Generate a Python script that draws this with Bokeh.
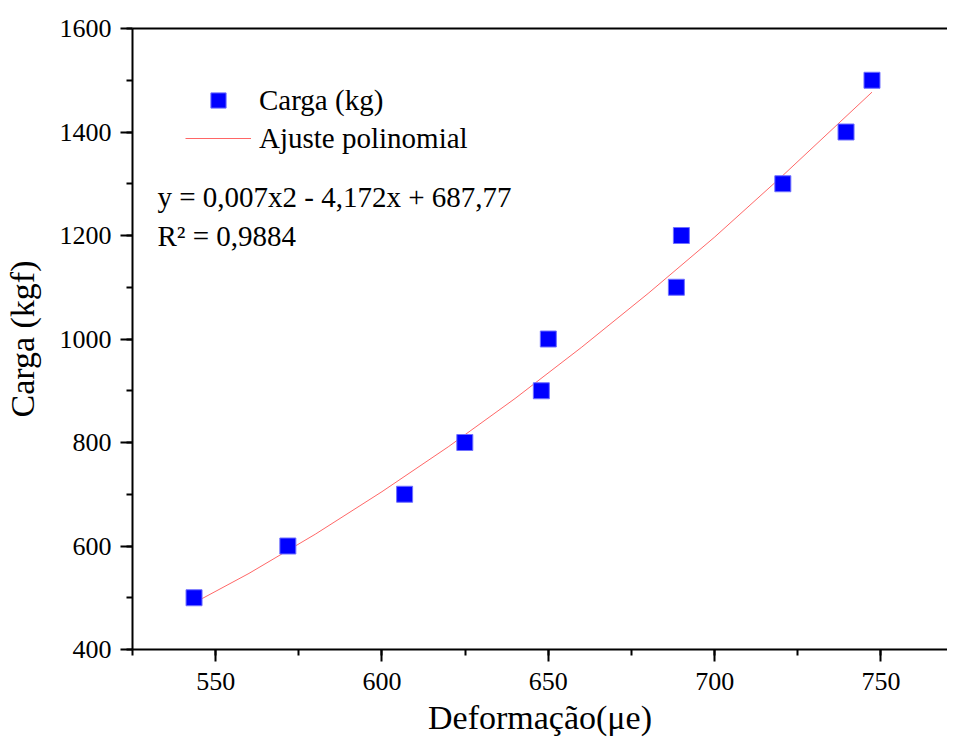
from bokeh.plotting import figure
from bokeh.models import (LinearAxis, SingleIntervalTicker, FixedTicker, Range1d,
                          Legend, LegendItem, Label)
from bokeh.embed import file_html
from bokeh.resources import INLINE

deformacao = [543.5, 571.7, 606.8, 624.9, 647.9, 650.0, 688.5, 690.0, 720.5, 739.5, 747.3]
carga = [500, 600, 700, 800, 900, 1000, 1100, 1200, 1300, 1400, 1500]

# Polynomial fit curve
ajuste_x = [543.5, 560, 580, 600, 620, 640, 660, 680, 700, 720, 747.3]
ajuste_y = [490, 547, 623, 705, 792, 885, 984, 1088, 1197, 1313, 1477]

equacao = "y = 0,007x2 - 4,172x + 687,77"
r2 = "R² = 0,9884"

FONT = "Liberation Serif"

p = figure(width=947, height=739, output_backend="svg", toolbar_location=None,
           x_range=Range1d(525, 770), y_range=Range1d(400, 1600),
           min_border_left=130, min_border_top=28, min_border_right=0,
           min_border_bottom=90, outline_line_color=None)
p.grid.visible = False
p.background_fill_color = "white"
p.border_fill_color = "white"

line = p.line(ajuste_x, ajuste_y, line_color="#ff0000", line_alpha=0.6, line_width=1)
sq = p.scatter(deformacao, carga, marker="square", size=16,
               fill_color="#0000ff", line_color="#7070ff", line_width=1)

# Axes styling
xa = p.xaxis[0]
xa.ticker = SingleIntervalTicker(interval=50, num_minor_ticks=2)
ya = p.yaxis[0]
ya.ticker = SingleIntervalTicker(interval=200, num_minor_ticks=2)
for ax in (xa, ya):
    ax.axis_line_width = 2
    ax.axis_line_color = "black"
    ax.major_tick_line_width = 2
    ax.minor_tick_line_width = 2
    ax.major_tick_in = 0
    ax.major_tick_out = 12
    ax.minor_tick_in = 0
    ax.minor_tick_out = 6
    ax.major_label_text_font = FONT
    ax.major_label_text_font_size = "26px"
    ax.major_label_text_color = "black"
    ax.axis_label_text_font = FONT
    ax.axis_label_text_font_style = "normal"
    ax.axis_label_text_color = "black"
xa.axis_label = "Deformação(μe)"
xa.axis_label_text_font_size = "34px"
xa.major_label_standoff = 11
xa.axis_label_standoff = 6
ya.axis_label = "Carga (kgf)"
ya.axis_label_text_font_size = "34px"
ya.major_label_standoff = 9
ya.axis_label_standoff = 16

top = LinearAxis(ticker=FixedTicker(ticks=[]), axis_line_width=2,
                 major_tick_out=0, major_tick_in=0, minor_tick_out=0, minor_tick_in=0,
                 major_label_text_font_size="0px")
p.add_layout(top, "above")

legend = Legend(items=[LegendItem(label="Carga (kg)", renderers=[sq]),
                       LegendItem(label="Ajuste polinomial", renderers=[line])],
                location="top_left", glyph_width=66, glyph_height=38, label_height=38,
                label_standoff=8, spacing=0, padding=3, margin=53,
                border_line_color=None, background_fill_alpha=0,
                label_text_font=FONT, label_text_font_size="29px",
                label_text_color="black")
p.add_layout(legend)

p.add_layout(Label(x=532.5, y=1274, text=equacao, text_font=FONT, text_font_size="29px",
                   text_baseline="middle", text_color="black"))
p.add_layout(Label(x=532.5, y=1200, text=r2, text_font=FONT, text_font_size="29px",
                   text_baseline="middle", text_color="black"))

open("out.html", "w").write(file_html(p, INLINE))
